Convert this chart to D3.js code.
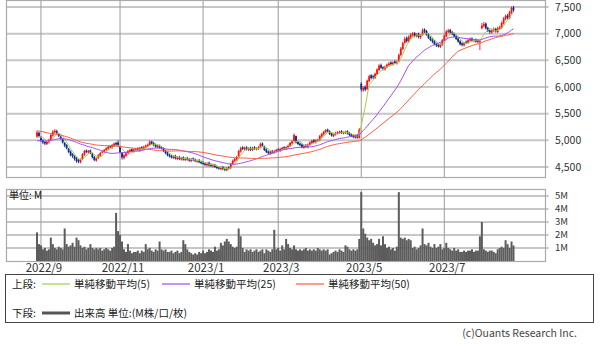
<!DOCTYPE html>
<html>
<head>
<meta charset="utf-8">
<script src="https://cdn.jsdelivr.net/npm/d3@7"></script>
<style>
    html, body { margin: 0; padding: 0; background: #fff; }
    svg { display: block; font-family: "Noto Sans CJK JP", "Noto Sans", sans-serif; }
</style>
</head>
<body>
<svg id="chart" width="600" height="344"></svg>
<script>
// trading calendar
const startDay = "2022-08-30";
const endDay = "2023-08-23";
const holidays = ["2022-09-19", "2022-09-23", "2022-10-10", "2022-11-03", "2022-11-23",
    "2023-01-02", "2023-01-03", "2023-01-09", "2023-02-23", "2023-03-21",
    "2023-05-03", "2023-05-04", "2023-05-05", "2023-07-17", "2023-08-11"];

// closes before the window, only used for the moving averages
const priorCloses = [5300, 5320, 5350, 5380, 5400, 5420, 5410, 5390, 5400, 5430,
    5450, 5440, 5420, 5400, 5380, 5390, 5410, 5400, 5370, 5350,
    5330, 5300, 5260, 5220, 5150,
    5080, 5050, 5020, 4990, 4960, 4940, 4920, 4900, 4930, 4950, 4970, 4980,
    4990, 5000, 4980, 4970, 5000, 5010, 4990, 4980, 5000, 5020, 5010, 5060];

const opens = [
    5070, 5140, 5060, 5000, 4970, 4930, 4960, 5010, 5090, 5150,
    5170, 5120, 5070, 5020, 4950, 4910, 4840, 4790, 4740, 4700,
    4660, 4630, 4590, 4650, 4730, 4810, 4770, 4810, 4750, 4690,
    4620, 4670, 4710, 4770, 4790, 4820, 4840, 4890, 4860, 4900,
    4950, 4960, 4880, 4770, 4670, 4710, 4750, 4790, 4830, 4790,
    4820, 4850, 4810, 4870, 4840, 4870, 4890, 4910, 4980, 4950,
    4920, 4870, 4900, 4870, 4850, 4800, 4770, 4730, 4710, 4670,
    4710, 4650, 4690, 4640, 4680, 4630, 4670, 4650, 4610, 4660,
    4640, 4600, 4630, 4600, 4590, 4570, 4530, 4580, 4550, 4510,
    4540, 4510, 4490, 4460, 4500, 4470, 4440, 4490, 4480, 4560,
    4610, 4640, 4700, 4790, 4870, 4830, 4870, 4820, 4860, 4820,
    4870, 4830, 4840, 4870, 4940, 4890, 4830, 4790, 4750, 4800,
    4770, 4790, 4830, 4800, 4830, 4870, 4840, 4860, 4900, 4940,
    4990, 5080, 4970, 4940, 4920, 4860, 4910, 4870, 4920, 4950,
    5000, 4960, 4990, 5000, 5070, 5110, 5150, 5200, 5170, 5130,
    5080, 5110, 5130, 5140, 5170, 5130, 5140, 5170, 5140, 5110,
    5090, 5050, 5100, 5050, 6060, 5940, 6000, 5960, 6110, 6220,
    6200, 6170, 6240, 6320, 6410, 6370, 6330, 6370, 6410, 6460,
    6420, 6480, 6440, 6480, 6600, 6710, 6830, 6920, 6850, 6930,
    6970, 7010, 6950, 7000, 6930, 6980, 7080, 7050, 6990, 6930,
    6890, 6860, 6810, 6790, 6750, 6790, 6870, 6950, 7030, 7070,
    7030, 7000, 6960, 6910, 6860, 6820, 6780, 6850, 6830, 6870,
    6910, 6860, 6890, 6840, 6850, 7100, 7140, 7190, 7110, 7060,
    7020, 7050, 7090, 7030, 7090, 7110, 7190, 7270, 7340, 7290,
    7390, 7490];

const highs = [
    5180, 5160, 5080, 5020, 4990, 4990, 5030, 5120, 5190, 5210,
    5200, 5140, 5090, 5040, 4970, 4930, 4860, 4810, 4760, 4720,
    4690, 4650, 4660, 4760, 4820, 4830, 4820, 4830, 4770, 4710,
    4680, 4740, 4780, 4810, 4840, 4870, 4900, 4910, 4930, 4960,
    4970, 5000, 4900, 4780, 4740, 4780, 4820, 4840, 4850, 4850,
    4860, 4870, 4880, 4890, 4900, 4920, 4940, 5000, 4990, 4970,
    4940, 4920, 4920, 4890, 4870, 4820, 4790, 4750, 4730, 4720,
    4730, 4700, 4710, 4690, 4700, 4680, 4690, 4670, 4670, 4680,
    4660, 4640, 4650, 4620, 4610, 4590, 4590, 4600, 4570, 4560,
    4560, 4530, 4510, 4510, 4520, 4490, 4500, 4510, 4580, 4640,
    4670, 4710, 4820, 4880, 4890, 4880, 4890, 4870, 4880, 4880,
    4890, 4870, 4890, 4960, 4960, 4900, 4850, 4810, 4810, 4820,
    4820, 4840, 4850, 4860, 4880, 4890, 4890, 4920, 4970, 5000,
    5130, 5090, 4990, 4960, 4940, 4920, 4930, 4940, 4980, 5010,
    5020, 5020, 5030, 5100, 5140, 5180, 5210, 5220, 5190, 5150,
    5130, 5160, 5170, 5180, 5190, 5170, 5180, 5190, 5160, 5130,
    5110, 5110, 5120, 5230, 6090, 6020, 6030, 6140, 6230, 6240,
    6230, 6270, 6350, 6430, 6440, 6390, 6400, 6440, 6470, 6480,
    6480, 6500, 6500, 6630, 6750, 6850, 6940, 6950, 6970, 7010,
    7030, 7030, 7010, 7020, 6990, 7100, 7100, 7070, 7010, 6950,
    6910, 6880, 6830, 6810, 6820, 6900, 6980, 7070, 7090, 7090,
    7050, 7020, 6980, 6930, 6880, 6840, 6840, 6870, 6900, 6930,
    6930, 6900, 6910, 6900, 6890, 7200, 7220, 7210, 7130, 7080,
    7090, 7120, 7110, 7130, 7150, 7230, 7310, 7360, 7370, 7430,
    7510, 7520];

const lows = [
    5050, 5060, 4970, 4930, 4910, 4910, 4940, 4990, 5070, 5130,
    5110, 5060, 5010, 4940, 4870, 4830, 4760, 4700, 4670, 4620,
    4580, 4570, 4570, 4630, 4710, 4760, 4750, 4740, 4660, 4610,
    4600, 4650, 4690, 4750, 4770, 4800, 4820, 4850, 4840, 4880,
    4900, 4880, 4760, 4640, 4640, 4690, 4730, 4770, 4770, 4770,
    4800, 4800, 4790, 4830, 4820, 4850, 4870, 4900, 4920, 4890,
    4860, 4850, 4840, 4830, 4780, 4740, 4700, 4680, 4660, 4650,
    4640, 4630, 4630, 4620, 4620, 4610, 4620, 4600, 4590, 4610,
    4590, 4580, 4570, 4550, 4540, 4520, 4510, 4510, 4500, 4490,
    4480, 4460, 4450, 4440, 4440, 4420, 4420, 4450, 4460, 4540,
    4590, 4620, 4690, 4770, 4820, 4810, 4810, 4800, 4800, 4800,
    4820, 4810, 4820, 4850, 4880, 4800, 4760, 4740, 4730, 4750,
    4750, 4770, 4790, 4780, 4810, 4830, 4820, 4840, 4880, 4920,
    4970, 4940, 4910, 4890, 4850, 4840, 4860, 4850, 4900, 4930,
    4950, 4940, 4970, 4980, 5050, 5090, 5130, 5150, 5100, 5070,
    5060, 5090, 5110, 5120, 5120, 5110, 5120, 5110, 5080, 5060,
    5040, 5030, 5030, 5030, 5920, 5910, 5920, 5940, 6090, 6140,
    6150, 6150, 6220, 6300, 6340, 6310, 6310, 6350, 6390, 6410,
    6400, 6430, 6420, 6460, 6580, 6690, 6800, 6830, 6830, 6900,
    6940, 6930, 6930, 6910, 6900, 6960, 7010, 6960, 6900, 6860,
    6820, 6780, 6750, 6740, 6730, 6770, 6850, 6930, 7010, 7000,
    6970, 6930, 6880, 6830, 6780, 6760, 6760, 6810, 6810, 6850,
    6850, 6840, 6830, 6820, 6690, 7080, 7120, 7080, 7030, 7000,
    7000, 7030, 7020, 7010, 7070, 7090, 7170, 7250, 7270, 7270,
    7370, 7410];

const closes = [
    5150, 5080, 4990, 4960, 4940, 4970, 5000, 5100, 5160, 5180,
    5140, 5080, 5030, 4960, 4900, 4850, 4780, 4720, 4700, 4650,
    4610, 4600, 4640, 4740, 4800, 4780, 4800, 4760, 4680, 4630,
    4660, 4720, 4760, 4790, 4820, 4850, 4880, 4870, 4910, 4940,
    4920, 4900, 4780, 4680, 4720, 4760, 4800, 4820, 4790, 4830,
    4840, 4820, 4860, 4850, 4880, 4900, 4920, 4970, 4940, 4910,
    4880, 4900, 4860, 4850, 4800, 4760, 4720, 4700, 4680, 4700,
    4660, 4680, 4650, 4670, 4640, 4660, 4640, 4620, 4650, 4630,
    4610, 4620, 4590, 4570, 4560, 4540, 4570, 4530, 4520, 4540,
    4500, 4480, 4470, 4490, 4460, 4450, 4480, 4470, 4560, 4620,
    4650, 4690, 4800, 4850, 4840, 4860, 4830, 4850, 4820, 4860,
    4840, 4850, 4870, 4930, 4900, 4820, 4780, 4760, 4790, 4770,
    4800, 4820, 4810, 4840, 4860, 4850, 4870, 4900, 4950, 4980,
    5100, 4960, 4930, 4910, 4870, 4900, 4880, 4920, 4960, 4990,
    4970, 5000, 5010, 5080, 5120, 5160, 5190, 5170, 5120, 5090,
    5110, 5140, 5150, 5160, 5140, 5150, 5160, 5130, 5100, 5080,
    5060, 5090, 5050, 5200, 5960, 5980, 5950, 6120, 6200, 6170,
    6180, 6250, 6330, 6400, 6360, 6340, 6380, 6420, 6440, 6430,
    6460, 6450, 6470, 6600, 6720, 6820, 6900, 6860, 6940, 6980,
    7000, 6960, 6990, 6940, 6970, 7060, 7040, 6980, 6920, 6880,
    6850, 6800, 6780, 6760, 6800, 6880, 6960, 7040, 7060, 7020,
    6990, 6950, 6900, 6850, 6800, 6790, 6820, 6830, 6880, 6900,
    6870, 6880, 6850, 6880, 6860, 7150, 7180, 7100, 7050, 7030,
    7060, 7080, 7040, 7100, 7120, 7200, 7280, 7330, 7300, 7400,
    7480, 7440];

// volume, millions
const volumes = [
    2.2, 1.3, 1.2, 0.9, 1.0, 0.8, 0.9, 1.8, 1.3, 1.0,
    0.9, 1.1, 1.0, 0.9, 2.5, 1.3, 1.1, 1.2, 1.4, 1.1,
    1.8, 1.6, 1.2, 1.0, 1.1, 0.9, 1.0, 1.3, 1.0, 0.9,
    1.0, 0.9, 1.0, 0.8, 0.9, 1.0, 0.9, 0.8, 1.0, 1.1,
    3.7, 2.3, 2.0, 1.5, 0.9, 0.7, 1.3, 0.8, 0.6, 0.7,
    0.7, 0.8, 0.6, 0.8, 0.7, 1.3, 0.9, 1.0, 0.8, 0.7,
    0.9, 0.8, 1.5, 0.9, 0.8, 0.9, 0.7, 0.7, 0.8, 0.6,
    0.7, 0.8, 0.6, 0.7, 1.6, 1.3, 0.9, 0.7, 0.6, 0.5,
    0.6, 0.5, 0.7, 0.6, 0.8, 0.6, 0.7, 0.9, 0.8, 0.7,
    1.1, 0.8, 0.9, 1.4, 1.2, 1.5, 1.7, 1.5, 1.3, 1.1,
    1.0, 1.1, 2.5, 1.9, 1.0, 0.7, 0.9, 0.8, 0.9, 0.7,
    0.8, 0.9, 0.7, 0.8, 0.9, 0.6, 0.9, 0.8, 0.7, 0.9,
    2.4, 0.9, 1.0, 0.8, 1.2, 0.9, 1.7, 1.3, 1.0, 0.9,
    1.2, 0.9, 0.8, 0.9, 0.8, 0.9, 1.0, 0.8, 0.9, 0.8,
    0.9, 0.8, 1.0, 0.9, 0.8, 0.9, 0.8, 0.9, 0.5, 0.6,
    0.7, 0.8, 0.7, 0.9, 0.8, 0.7, 1.2, 1.1, 0.9, 0.8,
    0.9, 0.8, 0.9, 1.7, 5.3, 2.5, 2.1, 1.8, 1.6, 1.7,
    1.4, 1.2, 1.3, 1.7, 1.2, 1.9, 1.3, 1.0, 1.1, 0.9,
    1.0, 0.8, 1.1, 5.3, 1.8, 1.7, 1.8, 1.6, 1.7, 1.6,
    1.0, 1.1, 0.9, 1.0, 1.2, 2.5, 1.3, 1.2, 1.4, 1.1,
    1.0, 1.3, 1.0, 1.1, 1.3, 0.9, 1.0, 1.4, 1.0, 0.9,
    0.8, 1.0, 0.8, 0.9, 0.7, 0.7, 0.8, 0.7, 0.8, 0.8,
    0.9, 0.7, 0.8, 0.8, 1.9, 3.0, 0.9, 0.8, 0.7, 0.8,
    0.8, 0.7, 0.6, 0.9, 1.0, 1.1, 1.0, 1.6, 1.3, 1.0,
    1.5, 1.2];

const priceTicks = [4500, 5000, 5500, 6000, 6500, 7000, 7500];
const volumeTicks = [1, 2, 3, 4, 5];
const labelMonths = [1, 3, 5, 7, 9, 11];

const maSeries = [
    { period: 5, color: "#a3d044", label: "単純移動平均(5)" },
    { period: 25, color: "#a24cf7", label: "単純移動平均(25)" },
    { period: 50, color: "#ff5a3c", label: "単純移動平均(50)" }
];

const svg = d3.select("#chart");
const fmtDay = d3.utcFormat("%Y-%m-%d");

const holidaySet = new Set(holidays);
const dates = d3.utcDay.range(new Date(startDay), d3.utcDay.offset(new Date(endDay), 1))
    .filter(d => d.getUTCDay() !== 0 && d.getUTCDay() !== 6 && !holidaySet.has(fmtDay(d)));

const n = Math.min(dates.length, closes.length);
const days = d3.range(n).map(i => ({
    i: i, date: dates[i],
    o: opens[i], h: highs[i], l: lows[i], c: closes[i], v: volumes[i]
}));

// layout
const plotL = 6.5, plotR = 545.5;
const priceTop = 0.5, priceBottom = 177.5;
const volTop = 189.5, volBottom = 261.5;

const x = d3.scaleLinear().domain([0, 241]).range([37, 513.5]);
const y = d3.scaleLinear().domain([4500, 7500]).range([167, 7]);
const yv = d3.scaleLinear().domain([0, 5]).range([261, 196]);

// first trading day of the labelled months
const monthStarts = days.filter((d, k) => k > 0 &&
    d.date.getUTCMonth() !== days[k - 1].date.getUTCMonth() &&
    labelMonths.includes(d.date.getUTCMonth() + 1));

// moving averages
const allCloses = priorCloses.concat(closes.slice(0, n));
function movingAverage(period) {
    return days.map(d => {
        const end = d.i + priorCloses.length + 1;
        return { i: d.i, v: d3.mean(allCloses.slice(end - period, end)) };
    });
}

function drawPanel(top, bottom, scale, ticks, fmt, fontSize) {
    const g = svg.append("g");
    g.selectAll("line.h").data(ticks).join("line")
        .attr("x1", plotL).attr("x2", plotR + 3)
        .attr("y1", d => scale(d)).attr("y2", d => scale(d))
        .attr("stroke", "#c6c6c6").attr("stroke-width", 2);
    g.selectAll("line.v").data(monthStarts).join("line")
        .attr("x1", d => x(d.i)).attr("x2", d => x(d.i))
        .attr("y1", top).attr("y2", bottom)
        .attr("stroke", "#9a9a9a").attr("stroke-width", 1);
    g.append("rect")
        .attr("x", plotL).attr("y", top)
        .attr("width", plotR - plotL).attr("height", bottom - top)
        .attr("fill", "none").attr("stroke", "#aaa").attr("stroke-width", 1.2);
    g.selectAll("text").data(ticks).join("text")
        .attr("x", 555).attr("y", d => scale(d))
        .attr("dy", "0.35em")
        .attr("font-size", fontSize).attr("fill", "#333")
        .text(fmt);
}

drawPanel(priceTop, priceBottom, y, priceTicks, d3.format(","), 10.5);
drawPanel(volTop, volBottom, yv, volumeTicks, d => d + "M", 9.5);

svg.append("defs").append("clipPath").attr("id", "priceClip")
    .append("rect").attr("x", plotL).attr("y", priceTop)
    .attr("width", plotR - plotL).attr("height", priceBottom - priceTop);

// candles
const candles = svg.append("g").attr("clip-path", "url(#priceClip)");
const upColor = "#ff1010", downColor = "#0a2a8c";
candles.selectAll("line").data(days).join("line")
    .attr("x1", d => x(d.i)).attr("x2", d => x(d.i))
    .attr("y1", d => y(d.h)).attr("y2", d => y(d.l))
    .attr("stroke", d => d.c >= d.o ? upColor : downColor)
    .attr("stroke-width", 0.9);
candles.selectAll("rect").data(days).join("rect")
    .attr("x", d => x(d.i) - 0.9).attr("width", 1.8)
    .attr("y", d => y(Math.max(d.o, d.c)))
    .attr("height", d => Math.max(1, Math.abs(y(d.o) - y(d.c))))
    .attr("fill", d => d.c >= d.o ? upColor : downColor);

// moving average lines
const line = d3.line().x(d => x(d.i)).y(d => y(d.v));
maSeries.forEach(s => {
    candles.append("path")
        .datum(movingAverage(s.period))
        .attr("d", line)
        .attr("fill", "none")
        .attr("stroke", s.color)
        .attr("stroke-width", 1);
});

// volume bars
svg.append("g").selectAll("rect").data(days).join("rect")
    .attr("x", d => x(d.i) - 1).attr("width", 2)
    .attr("y", d => yv(d.v))
    .attr("height", d => yv(0) - yv(d.v))
    .attr("fill", "#5c5c5c");

svg.append("text")
    .attr("x", 9).attr("y", 195).attr("dy", "0.36em")
    .attr("font-size", 10).attr("fill", "#111")
    .text("単位: M");

// month labels
svg.append("g").selectAll("text").data(monthStarts).join("text")
    .attr("x", d => x(d.i) + 3).attr("y", 268).attr("dy", "0.36em")
    .attr("text-anchor", "middle")
    .attr("font-size", 11.5).attr("fill", "#333")
    .text(d => d.date.getUTCFullYear() + "/" + (d.date.getUTCMonth() + 1));

// legend
const legend = svg.append("g");
legend.append("rect")
    .attr("x", 5.5).attr("y", 274.5).attr("width", 588).attr("height", 48)
    .attr("fill", "none").attr("stroke", "#444").attr("stroke-width", 1);
legend.append("text").attr("x", 12).attr("y", 284).attr("dy", "0.36em")
    .attr("font-size", 10.5).attr("fill", "#222").text("上段:");
const legendX = [42, 162, 296];
maSeries.forEach((s, k) => {
    legend.append("line")
        .attr("x1", legendX[k]).attr("x2", legendX[k] + 28)
        .attr("y1", 284).attr("y2", 284)
        .attr("stroke", s.color).attr("stroke-width", 1.2);
    legend.append("text").attr("x", legendX[k] + 32).attr("y", 284).attr("dy", "0.36em")
        .attr("font-size", 10.5).attr("fill", "#222").text(s.label);
});
legend.append("text").attr("x", 12).attr("y", 313).attr("dy", "0.36em")
    .attr("font-size", 10.5).attr("fill", "#222").text("下段:");
legend.append("line")
    .attr("x1", 42).attr("x2", 70).attr("y1", 313).attr("y2", 313)
    .attr("stroke", "#555").attr("stroke-width", 3);
legend.append("text").attr("x", 74).attr("y", 313).attr("dy", "0.36em")
    .attr("font-size", 10.5).attr("fill", "#222").text("出来高 単位:(M株/口/枚)");

svg.append("text")
    .attr("x", 577).attr("y", 333).attr("dy", "0.36em")
    .attr("text-anchor", "end")
    .attr("font-size", 10.5).attr("fill", "#444")
    .text("(c)Ouants Research Inc.");
</script>
</body>
</html>
